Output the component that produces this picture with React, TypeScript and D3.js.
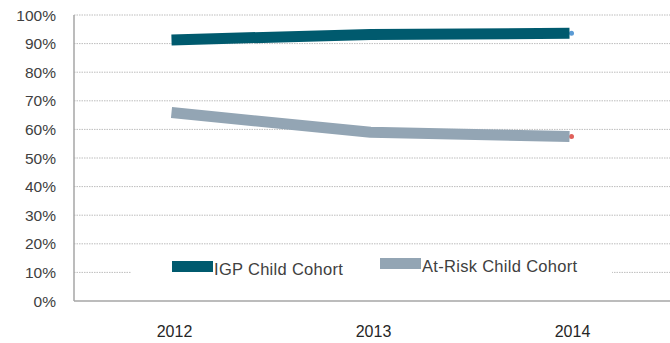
import React from "react";
import * as d3 from "d3";

const years = ["2012", "2013", "2014"];
const igpValues = [0.913, 0.932, 0.936];
const atRiskValues = [0.659, 0.59, 0.575];
const yTicks = [0, 0.1, 0.2, 0.3, 0.4, 0.5, 0.6, 0.7, 0.8, 0.9, 1.0];
const seriesNames = ["IGP Child Cohort", "At-Risk Child Cohort"];
const seriesColors = ["#005A6E", "#93A5B4"];
const markerColors = ["#5B9BD5", "#E0605A"];

const W = 670;
const H = 343;
const left = 74;
const right = 669;
const top = 15;
const bottom = 301;
const font = "'Liberation Sans', Arial, sans-serif";

export default function App() {
  const x = d3.scaleBand<string>().domain(years).range([left - 2, right]);
  const y = d3.scaleLinear().domain([0, 1]).range([bottom, top]);
  const cx = (d: string) => (x(d) as number) + x.bandwidth() / 2;
  const line = d3
    .line<number>()
    .x((_, i) => cx(years[i]))
    .y((v) => y(v))
    .curve(d3.curveLinear);
  const series = [igpValues, atRiskValues];
  const fmt = d3.format(".0%");

  return (
    <svg
      width={W}
      height={H}
      style={{ position: "absolute", left: 0, top: 0, background: "#fff" }}
      fontFamily={font}
    >
      {yTicks.slice(1).map((t) => (
        <line
          key={t}
          x1={left}
          x2={W}
          y1={y(t)}
          y2={y(t)}
          stroke="#BDBDBD"
          strokeWidth={1}
          strokeDasharray="1.5,1"
        />
      ))}
      <line x1={left} x2={left} y1={top} y2={bottom} stroke="#A6A6A6" strokeWidth={1.5} />
      <line x1={left} x2={W} y1={bottom} y2={bottom} stroke="#A6A6A6" strokeWidth={1.5} />
      {yTicks.map((t) => (
        <text
          key={t}
          x={56}
          y={y(t)}
          textAnchor="end"
          dominantBaseline="central"
          fontSize={15.5}
          fill="#404040"
        >
          {fmt(t)}
        </text>
      ))}
      {years.map((yr) => (
        <text
          key={yr}
          x={cx(yr) + 3}
          y={331}
          textAnchor="middle"
          dominantBaseline="central"
          fontSize={16}
          fill="#262626"
        >
          {yr}
        </text>
      ))}
      {series.map((vals, i) => (
        <circle
          key={"m" + i}
          cx={cx(years[years.length - 1]) + 2}
          cy={y(vals[vals.length - 1])}
          r={2.5}
          fill={markerColors[i]}
        />
      ))}
      {series.map((vals, i) => (
        <path
          key={i}
          d={line(vals) || ""}
          fill="none"
          stroke={seriesColors[i]}
          strokeWidth={11}
          strokeLinecap="butt"
          strokeLinejoin="round"
        />
      ))}
      <rect x={131} y={251} width={481} height={38} fill="#fff" />
      {seriesNames.map((name, i) => {
        const lx = i === 0 ? 172 : 380;
        const ly = i === 0 ? 261 : 258;
        return (
          <g key={name}>
            <rect x={lx} y={ly} width={41} height={11} fill={seriesColors[i]} />
            <text
              x={lx + 42}
              y={ly + 10}
              dominantBaseline="middle"
              fontSize={16.5}
              letterSpacing={0.3}
              fill="#404040"
            >
              {name}
            </text>
          </g>
        );
      })}
    </svg>
  );
}
